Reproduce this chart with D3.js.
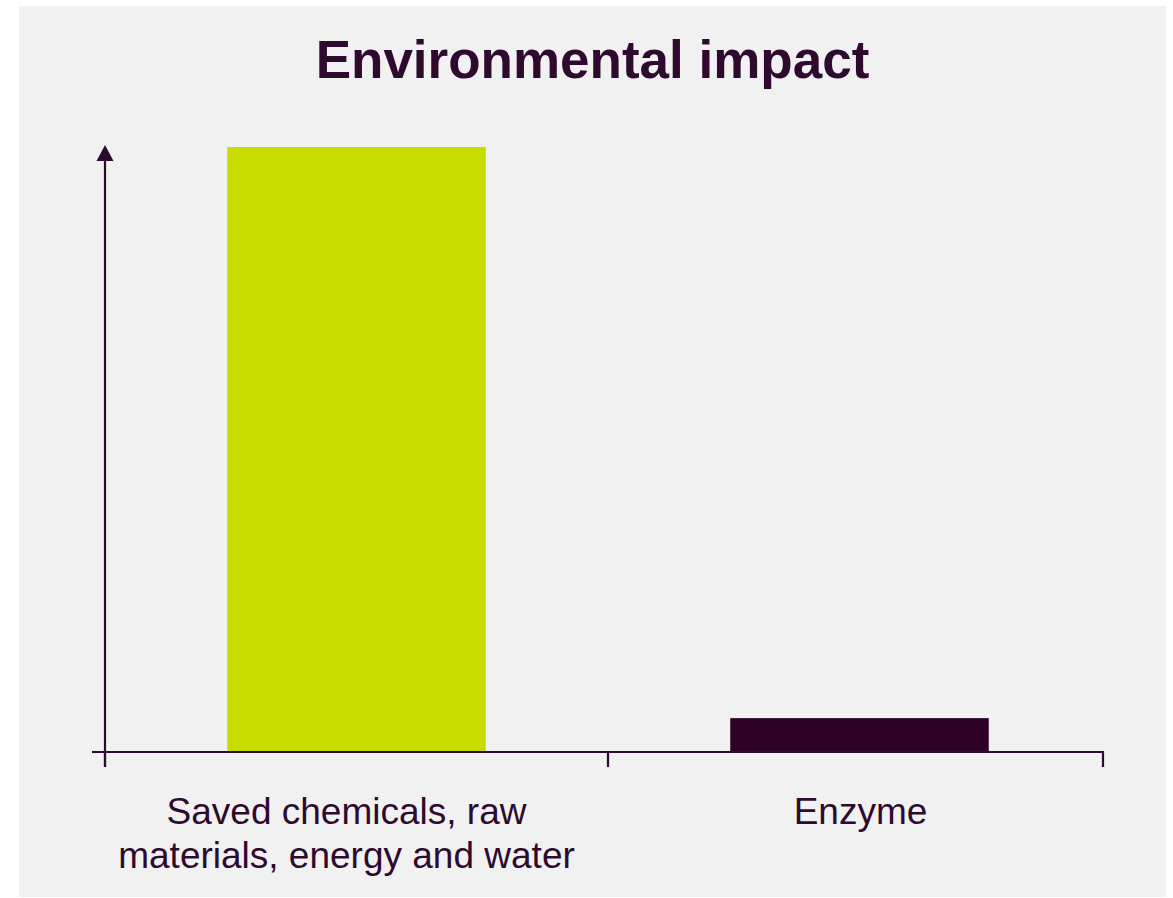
<!DOCTYPE html>
<html>
<head>
<meta charset="utf-8">
<script src="https://cdn.jsdelivr.net/npm/d3@7"></script>
<style>
  html, body { margin: 0; padding: 0; background: #ffffff; }
  svg { display: block; }
</style>
</head>
<body>
<svg id="chart" width="1173" height="898"></svg>
<script>
const title = "Environmental impact";
const categories = ["Saved chemicals, raw materials, energy and water", "Enzyme"];
const labelLines = [["Saved chemicals, raw", "materials, energy and water"], ["Enzyme"]];
const values = [100, 5.6];
const barColors = ["#c8dc00", "#2d0026"];

const ink = "#2d0a2e";
const svg = d3.select("#chart");

svg.append("rect").attr("x", 19).attr("y", 6).attr("width", 1147).attr("height", 891).attr("fill", "#f1f1f1");

const x = d3.scaleBand().domain(categories).range([105, 1111]).paddingInner(0).paddingOuter(0);
const y = d3.scaleLinear().domain([0, 100]).range([752, 147]);
const barFrac = 0.514;
const axisEnd = 1103;

// bars
svg.selectAll("rect.bar").data(categories).enter().append("rect")
  .attr("class", "bar")
  .attr("x", d => x(d) + x.bandwidth() * (1 - barFrac) / 2)
  .attr("width", x.bandwidth() * barFrac)
  .attr("y", (d, i) => y(values[i]))
  .attr("height", (d, i) => y(0) - y(values[i]))
  .attr("fill", (d, i) => barColors[i]);

// x axis line
svg.append("line").attr("x1", 92).attr("x2", axisEnd + 1).attr("y1", y(0)).attr("y2", y(0))
  .attr("stroke", ink).attr("stroke-width", 2.2);
// ticks at band boundaries and axis end
const tickXs = categories.map(c => x(c)).concat([axisEnd]);
svg.selectAll("line.tick").data(tickXs).enter().append("line")
  .attr("class", "tick")
  .attr("x1", d => d).attr("x2", d => d)
  .attr("y1", y(0)).attr("y2", y(0) + 15)
  .attr("stroke", ink).attr("stroke-width", 2.2);

// y axis with arrow
svg.append("line").attr("x1", 105).attr("x2", 105).attr("y1", y(0) + 14).attr("y2", y(100) + 12)
  .attr("stroke", ink).attr("stroke-width", 2.2);
const tipY = y(100) - 2;
svg.append("path")
  .attr("d", `M105,${tipY} L113.5,${tipY + 16} L96.5,${tipY + 16} Z`)
  .attr("fill", ink);

// title
svg.append("text").attr("x", 592.5).attr("y", 78).attr("text-anchor", "middle")
  .attr("font-family", "'Liberation Sans', Arial, sans-serif").attr("font-weight", "bold")
  .attr("font-size", 53).attr("fill", ink).text(title);

// category labels
const labelOffsets = [-10, 1];
categories.forEach((c, i) => {
  const t = svg.append("text")
    .attr("text-anchor", "middle")
    .attr("font-family", "'Liberation Sans', Arial, sans-serif")
    .attr("font-size", 37).attr("fill", ink);
  labelLines[i].forEach((ln, j) => {
    t.append("tspan").attr("x", x(c) + x.bandwidth() / 2 + labelOffsets[i]).attr("y", 824 + j * 44).text(ln);
  });
});
</script>
</body>
</html>
